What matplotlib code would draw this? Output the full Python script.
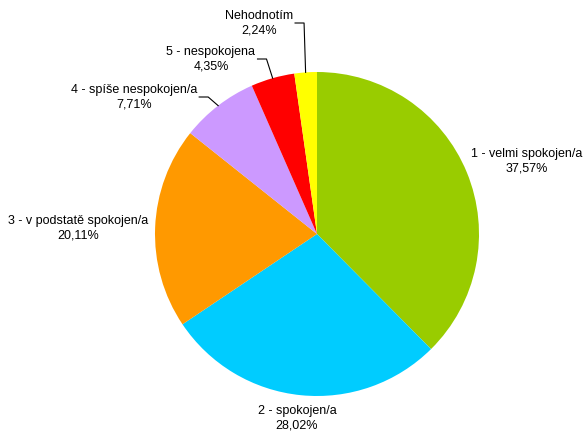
import matplotlib.pyplot as plt
import numpy as np

plt.rcParams['font.family'] = ['Liberation Sans', 'DejaVu Sans']

# Spokojenost - podíly odpovědí
labels = ['1 - velmi spokojen/a', '2 - spokojen/a', '3 - v podstatě spokojen/a',
          '4 - spíše nespokojen/a', '5 - nespokojena', 'Nehodnotím']
values = [37.57, 28.02, 20.11, 7.71, 4.35, 2.24]
colors = ['#99CC00', '#00CCFF', '#FF9900', '#CC99FF', '#FF0000', '#FFFF00']

W, H = 585, 434
fig = plt.figure(figsize=(W / 100, H / 100), dpi=100)
ax = fig.add_axes([0, 0, 1, 1])

cx, cy, r = 317, H - 234, 162
wedges, _ = ax.pie(values, colors=colors, startangle=90, counterclock=False,
                   center=(cx, cy), radius=r, frame=True,
                   wedgeprops=dict(linewidth=0))
ax.set_xlim(0, W)
ax.set_ylim(0, H)
ax.set_aspect('equal')
ax.axis('off')

# label positions (text block centres, pixels from top)
label_pos = [(527, 161), (297, 418), (78, 228), (134, 97), (211, 59), (259, 23)]
leader = [False, False, False, True, True, True]

fig.canvas.draw()
renderer = fig.canvas.get_renderer()
for w, lab, v, (lx, ly), ld in zip(wedges, labels, values, label_pos, leader):
    txt = ax.text(lx, H - ly, f'{lab}\n{v:.2f}%'.replace('.', ','),
                  ha='center', va='center', fontsize=9, linespacing=1.25)
    if ld:
        # elbow line from the label to the middle of the wedge's rim
        ang = np.deg2rad((w.theta1 + w.theta2) / 2)
        ex, ey = cx + r * np.cos(ang), cy + r * np.sin(ang)
        bb = txt.get_window_extent(renderer)
        x0 = bb.x1 + 2
        x1 = x0 + 9
        ax.plot([x0, x1, ex], [H - ly, H - ly, ey], color='black', lw=0.8)

fig.savefig('out.png', dpi=100)
